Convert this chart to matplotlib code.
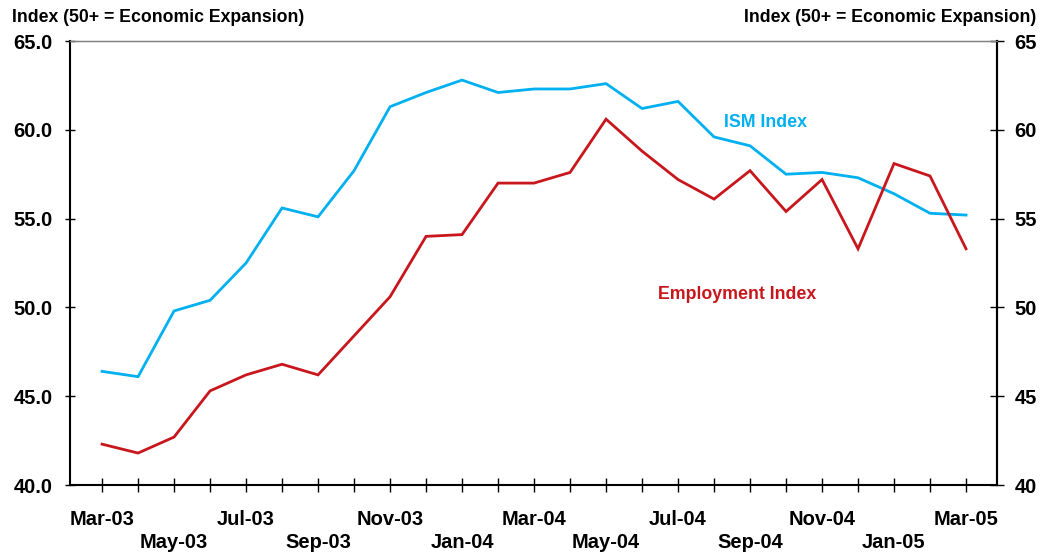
import matplotlib
matplotlib.use("Agg")
import matplotlib.pyplot as plt
from matplotlib.transforms import offset_copy

months = ["Mar-03", "Apr-03", "May-03", "Jun-03", "Jul-03", "Aug-03", "Sep-03",
          "Oct-03", "Nov-03", "Dec-03", "Jan-04", "Feb-04", "Mar-04", "Apr-04",
          "May-04", "Jun-04", "Jul-04", "Aug-04", "Sep-04", "Oct-04", "Nov-04",
          "Dec-04", "Jan-05", "Feb-05", "Mar-05"]
ism = [46.4, 46.1, 49.8, 50.4, 52.5, 55.6, 55.1, 57.7, 61.3, 62.1, 62.8, 62.1,
       62.3, 62.3, 62.6, 61.2, 61.6, 59.6, 59.1, 57.5, 57.6, 57.3, 56.4, 55.3, 55.2]
employment = [42.3, 41.8, 42.7, 45.3, 46.2, 46.8, 46.2, 48.4, 50.6, 54.0, 54.1, 57.0,
              57.0, 57.6, 60.6, 58.8, 57.2, 56.1, 57.7, 55.4, 57.2, 53.3, 58.1, 57.4, 53.3]
left_ticks = [40, 45, 50, 55, 60, 65]
axis_title = "Index (50+ = Economic Expansion)"

plt.rcParams['font.family'] = ['Liberation Sans', 'DejaVu Sans']
plt.rcParams['font.weight'] = 'bold'

fig = plt.figure(figsize=(10.42, 5.55), dpi=100)
ax = fig.add_axes([0.0672, 0.1261, 0.8896, 0.8000])
x = list(range(len(months)))

ax.plot(x, ism, color='#00B0F0', lw=2.0, solid_joinstyle='miter')
ax.plot(x, employment, color='#C8161D', lw=2.0, solid_joinstyle='miter')

ax.set_xlim(-0.89, len(months) - 1 + 0.86)
ax.set_ylim(40, 65)
ax.set_yticks(left_ticks)
ax.set_yticklabels([f"{v:.1f}" for v in left_ticks], fontsize=14.5, fontweight='bold')
ax.set_xticks(x)
ax.set_xticklabels([])
ax.tick_params(axis='x', direction='inout', length=10, width=1, color='black')
ax.tick_params(axis='y', direction='inout', length=7, width=1, pad=9)

for s in ['left', 'bottom']:
    ax.spines[s].set_linewidth(1.5)
    ax.spines[s].set_color('black')
ax.spines['top'].set_color('#808080')
ax.spines['top'].set_linewidth(1.0)
ax.spines['right'].set_linewidth(1.5)

ax2 = ax.twinx()
ax2.set_ylim(40, 65)
ax2.set_yticks(left_ticks)
ax2.set_yticklabels([str(v) for v in left_ticks], fontsize=14.5, fontweight='bold')
ax2.tick_params(axis='y', direction='inout', length=9.5, width=1, pad=8)
ax2.spines['right'].set_linewidth(1.5)
ax2.spines['top'].set_color('#808080')
ax2.spines['left'].set_visible(False)
ax2.spines['bottom'].set_visible(False)

trans = ax.get_xaxis_transform()
for i in range(0, len(months), 2):
    row2 = (i // 2) % 2 == 1
    off = -57 if row2 else -34
    t = offset_copy(trans, fig=fig, y=off, units='dots')
    ax.text(i, 0, months[i], transform=t, ha='center', va='center',
            fontsize=14.5, fontweight='bold')

fig.text(12 / 1042, 1 - 17 / 555, axis_title, ha='left', va='center',
         fontsize=12.7, fontweight='bold')
fig.text(1036 / 1042, 1 - 17 / 555, axis_title, ha='right', va='center',
         fontsize=12.7, fontweight='bold')

ax.text(17.28, 60.4, "ISM Index", color='#00B0F0', fontsize=12.8, fontweight='bold',
        ha='left', va='center')
ax.text(15.44, 50.7, "Employment Index", color='#C8161D', fontsize=12.8,
        fontweight='bold', ha='left', va='center')

fig.savefig("out.png", dpi=100)
